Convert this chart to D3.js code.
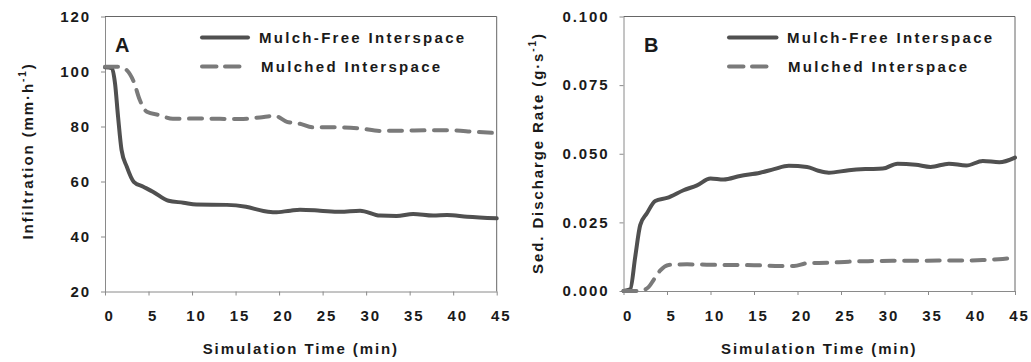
<!DOCTYPE html>
<html>
<head>
<meta charset="utf-8">
<script src="https://cdn.jsdelivr.net/npm/d3@7/dist/d3.min.js"></script>
<style>
  html, body { margin: 0; padding: 0; background: #fff; }
  svg { display: block; }
  text { font-family: "Liberation Sans", Arial, sans-serif; font-weight: bold; fill: #1a1a1a; }
</style>
</head>
<body>
<svg id="chart" width="1031" height="362"></svg>
<script>
// ---- Data ----
const seriesNames = ["Mulch-Free Interspace", "Mulched Interspace"];
const xTicks = [0, 5, 10, 15, 20, 25, 30, 35, 40, 45];
const yTicksA = [20, 40, 60, 80, 100, 120];
const yTicksB = [0, 0.025, 0.05, 0.075, 0.1];

// Panel A: infiltration (mm/h)
const timeAFree = [0, 0.8, 1.15, 1.5, 1.9, 2.5, 3.3, 4.4, 5.5, 7.3, 9, 10.5, 14, 16.2, 18.2, 19.5, 21.3, 22.4, 24.7, 27, 29.3, 31.6, 33.5, 35.4, 37.7, 39.3, 41.6, 45];
const infFree   = [101.5, 101.2, 95.7, 83.6, 71.5, 65.4, 59.9, 58.1, 56.3, 53.0, 52.3, 51.6, 51.5, 50.8, 49.3, 48.8, 49.4, 49.7, 49.4, 49.0, 49.4, 47.6, 47.5, 48.2, 47.6, 47.8, 47.2, 46.6];
const timeAMulch = [0, 1.7, 2.5, 3.3, 4.0, 4.8, 6.3, 7.8, 10.9, 15.5, 17.8, 19.5, 20.9, 22.4, 23.9, 26.6, 29.3, 31.6, 34.6, 37.3, 40, 42.3, 45];
const infMulch   = [101.7, 101.7, 100.5, 96.3, 89.6, 85.4, 84.1, 82.8, 82.9, 82.7, 83.3, 83.9, 81.7, 81.0, 79.7, 79.7, 79.3, 78.4, 78.5, 78.6, 78.6, 78.1, 77.6];

// Panel B: sediment discharge rate (g/s)
const timeBFree = [0, 0.77, 1.35, 1.92, 2.69, 3.65, 5.0, 6.9, 8.45, 10, 11.5, 13.4, 15.7, 17.3, 19, 21.1, 22.4, 23.6, 25.9, 27.8, 29.8, 31.5, 33.6, 35.3, 37.4, 39.4, 41.3, 43.2, 45];
const sedFree   = [0, 0.0006, 0.0125, 0.024, 0.0283, 0.0328, 0.0339, 0.0367, 0.0385, 0.041, 0.0406, 0.0419, 0.0431, 0.0444, 0.0456, 0.0452, 0.0438, 0.0431, 0.044, 0.0444, 0.0446, 0.0464, 0.046, 0.0452, 0.0464, 0.0457, 0.0474, 0.0469, 0.0486];
const timeBMulch = [0, 1.9, 2.9, 3.45, 4.2, 5.2, 7.3, 11.1, 15, 18, 19.6, 21.1, 23.6, 25.9, 28.6, 30.9, 33.6, 36.2, 38.9, 41.3, 43.6, 45];
const sedMulch   = [0, 0, 0.0015, 0.004, 0.0074, 0.0095, 0.0097, 0.0095, 0.0094, 0.0091, 0.0091, 0.0101, 0.0103, 0.0107, 0.0109, 0.011, 0.011, 0.0111, 0.0111, 0.0113, 0.0117, 0.0121];

// ---- Drawing ----
const svg = d3.select("#chart");
const solidColor = "#505050";
const dashColor = "#7a7a7a";

const panels = [
  {
    letter: "A", left: 105, right: 496.7, top: 16.5, bottom: 291.5,
    yDomain: [20, 120], yTicks: yTicksA, fmt: d3.format("d"),
    yTitle: ["Infiltration (mm·h", "-1", ")"], yTitleX: 33, yTitleY: 151,
    free: [timeAFree, infFree], mulch: [timeAMulch, infMulch],
    letterDx: 10, legLine: [97, 143], legText: [154, 156]
  },
  {
    letter: "B", left: 623.5, right: 1015, top: 16.5, bottom: 291,
    yDomain: [0, 0.1], yTicks: yTicksB, fmt: d3.format(".3f"),
    yTitle: ["Sed. Discharge Rate (g·s", "-1", ")"], yTitleX: 543, yTitleY: 153,
    free: [timeBFree, sedFree], mulch: [timeBMulch, sedMulch],
    letterDx: 20.5, legLine: [105.5, 153], legText: [163.5, 164.5]
  }
];

panels.forEach(p => {
  const x = d3.scaleLinear().domain([0, 45]).range([p.left, p.right]);
  const y = d3.scaleLinear().domain(p.yDomain).range([p.bottom, p.top]);
  const g = svg.append("g");

  // frame (top/right)
  g.append("path")
    .attr("d", `M${p.left},${p.top}H${p.right}V${p.bottom}`)
    .attr("fill", "none").attr("stroke", "#666").attr("stroke-width", 1);

  // x axis
  const xa = g.append("g").attr("transform", `translate(0,${p.bottom})`)
    .call(d3.axisBottom(x).tickValues(xTicks).tickSize(4).tickPadding(15).tickSizeOuter(0));
  xa.select(".domain").attr("stroke", "#8a8a8a");
  xa.selectAll(".tick line").attr("stroke", "#8a8a8a");
  xa.selectAll(".tick text").attr("dx", 4)
    .style("font-size", "15px").style("letter-spacing", "1.9px")
    .style("font-family", "'Liberation Sans', Arial, sans-serif").attr("fill", "#1a1a1a");

  // y axis
  const ya = g.append("g").attr("transform", `translate(${p.left},0)`)
    .call(d3.axisLeft(y).tickValues(p.yTicks).tickFormat(p.fmt).tickSize(4).tickPadding(10).tickSizeOuter(0));
  ya.select(".domain").attr("stroke", "#8a8a8a");
  ya.selectAll(".tick line").attr("stroke", "#8a8a8a");
  ya.selectAll(".tick text")
    .style("font-size", "15px").style("letter-spacing", "1.9px")
    .style("font-family", "'Liberation Sans', Arial, sans-serif").attr("fill", "#1a1a1a");

  // x title
  g.append("text")
    .attr("x", (p.left + p.right) / 2).attr("y", 354)
    .attr("text-anchor", "middle")
    .style("font-size", "15px").style("letter-spacing", "1.9px")
    .text("Simulation Time (min)");

  // y title
  const yt = g.append("text")
    .attr("transform", `translate(${p.yTitleX},${p.yTitleY}) rotate(-90)`)
    .attr("text-anchor", "middle")
    .style("font-size", "15px").style("letter-spacing", "1.9px");
  yt.append("tspan").text(p.yTitle[0]);
  yt.append("tspan").attr("dy", -7).style("font-size", "10px").text(p.yTitle[1]);
  yt.append("tspan").attr("dy", 7).text(p.yTitle[2]);

  // panel letter
  g.append("text")
    .attr("x", p.left + p.letterDx).attr("y", 52)
    .style("font-size", "20px")
    .text(p.letter);

  // lines
  const line = d3.line().x(d => x(d[0])).y(d => y(d[1])).curve(d3.curveMonotoneX);
  const freePts = p.free[0].map((t, i) => [t, p.free[1][i]]);
  const mulchPts = p.mulch[0].map((t, i) => [t, p.mulch[1][i]]);

  g.append("path").datum(freePts).attr("d", line)
    .attr("fill", "none").attr("stroke", solidColor).attr("stroke-width", 4)
    .attr("stroke-linecap", "round").attr("stroke-linejoin", "round");
  g.append("path").datum(mulchPts).attr("d", line)
    .attr("fill", "none").attr("stroke", dashColor).attr("stroke-width", 4)
    .attr("stroke-linecap", "round").attr("stroke-linejoin", "round")
    .attr("stroke-dasharray", "13,9.5");

  // legend
  const legY = [37.5, 66.5];
  g.append("line")
    .attr("x1", p.left + p.legLine[0]).attr("x2", p.left + p.legLine[1])
    .attr("y1", legY[0]).attr("y2", legY[0])
    .attr("stroke", solidColor).attr("stroke-width", 4).attr("stroke-linecap", "round");
  g.append("line")
    .attr("x1", p.left + p.legLine[0]).attr("x2", p.left + p.legLine[1] - 6)
    .attr("y1", legY[1]).attr("y2", legY[1])
    .attr("stroke", dashColor).attr("stroke-width", 4).attr("stroke-linecap", "round")
    .attr("stroke-dasharray", "14.5,8.5");
  seriesNames.forEach((name, i) => {
    g.append("text")
      .attr("x", p.left + p.legText[i]).attr("y", legY[i] + 5.5)
      .style("font-size", "15px").style("letter-spacing", "2.3px")
      .text(name);
  });
});
</script>
</body>
</html>
